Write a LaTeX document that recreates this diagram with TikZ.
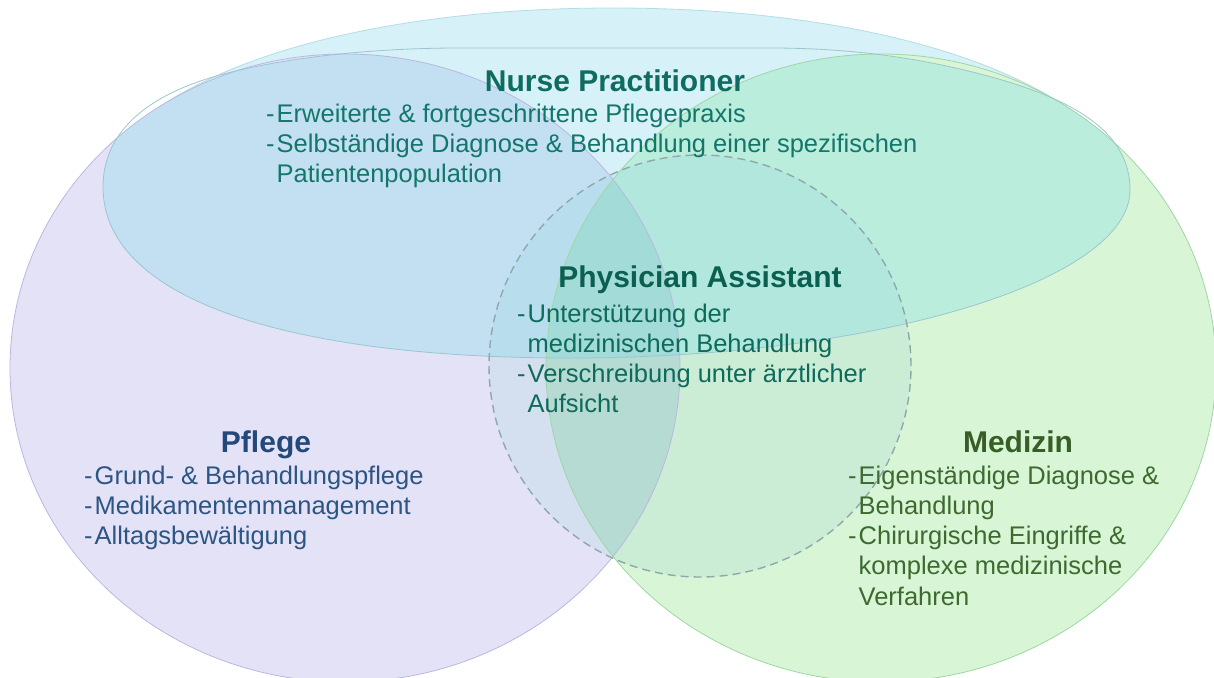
\documentclass[tikz,border=0pt]{standalone}
\usepackage{fontspec}
\setmainfont{Liberation Sans}
\definecolor{oFill}{HTML}{D6F1F7}
\definecolor{oEdge}{HTML}{B3DDE6}
\definecolor{pFill}{HTML}{E4E2F7}
\definecolor{pEdge}{HTML}{BAB8E0}
\definecolor{gFill}{HTML}{D8F5D6}
\definecolor{gEdge}{HTML}{9ED7A3}
\definecolor{lensFill}{HTML}{BCDDD1}
\definecolor{dTint}{HTML}{A8D8D8}
\definecolor{dEdge}{HTML}{8FA8AA}
\definecolor{eTint}{HTML}{78DCEB}
\definecolor{eEdge}{HTML}{9CC6CF}
\definecolor{npH}{HTML}{0E6C60}
\definecolor{npB}{HTML}{13766A}
\definecolor{paH}{HTML}{0B5F50}
\definecolor{paB}{HTML}{0E6A5A}
\definecolor{pfH}{HTML}{22497A}
\definecolor{pfB}{HTML}{2B5583}
\definecolor{meH}{HTML}{365E26}
\definecolor{meB}{HTML}{3E6A30}
\def\Ppath{(345,368) ellipse [x radius=335pt, y radius=314pt]}
\def\Gpath{(881,368) ellipse [x radius=335pt, y radius=314pt]}
\def\Dpath{(700,366) circle [radius=211pt]}
\def\Epath{(103,187) .. controls (103,130) and (150,90) .. (240,70) .. controls (300,56) and (380,48) .. (460,48) -- (770,48) .. controls (860,48) and (930,60) .. (995,78) .. controls (1080,102) and (1130,135) .. (1130,190) .. controls (1130,280) and (880,358) .. (570,358) .. controls (290,358) and (103,300) .. (103,187) -- cycle}
\def\Opath{(80,230) .. controls (80,100) and (300,8) .. (613,8) .. controls (926,8) and (1146,100) .. (1146,230) .. controls (1146,330) and (900,400) .. (613,400) .. controls (326,400) and (80,330) .. (80,230) -- cycle}
\begin{document}
\begin{tikzpicture}[x=1pt,y=-1pt,
  heading/.style={inner sep=0pt, anchor=base, font=\fontsize{30}{36}\selectfont\bfseries},
  bodytext/.style={inner sep=0pt, anchor=base west, font=\fontsize{25.5}{30.3}\selectfont, align=left},
  edgeline/.style={line width=0.8pt},
]
\useasboundingbox (0,0) rectangle (1214,677);
\clip (0,0) rectangle (1214,677);
% outer light cyan shape
\fill[oFill] \Opath;
\draw[edgeline, oEdge] \Opath;
% Pflege and Medizin circles
\fill[pFill] \Ppath;
\fill[gFill] \Gpath;
\begin{scope}
  \clip \Ppath;
  \fill[lensFill] \Gpath;
\end{scope}
% Physician Assistant circle tint
\fill[dTint, fill opacity=0.25] \Dpath;
% Nurse Practitioner ellipse tint
\begin{scope}
  \clip \Ppath \Gpath;
  \fill[eTint, fill opacity=0.3] \Epath;
\end{scope}
% edges
\draw[edgeline, pEdge] \Ppath;
\draw[edgeline, gEdge] \Gpath;
\draw[edgeline, eEdge] \Epath;
\draw[dEdge, line width=1.4pt, dash pattern=on 8pt off 5pt] \Dpath;
% texts
\node[heading, text=npH] (npTitle) at (615,91) {Nurse Practitioner};
\node[bodytext, text=npB] (npList) at (266,122) {\begin{tabular}[t]{@{}l@{\hspace{2pt}}l@{}}-&Erweiterte \& fortgeschrittene Pflegepraxis\\-&Selbständige Diagnose \& Behandlung einer spezifischen\\&Patientenpopulation\end{tabular}};
\node[heading, text=paH] (paTitle) at (700,287) {Physician Assistant};
\node[bodytext, text=paB] (paList) at (517,322) {\begin{tabular}[t]{@{}l@{\hspace{2pt}}l@{}}-&Unterstützung der\\&medizinischen Behandlung\\-&Verschreibung unter ärztlicher\\&Aufsicht\end{tabular}};
\node[heading, text=pfH] (pfTitle) at (266,452) {Pflege};
\node[bodytext, text=pfB] (pfList) at (84,484) {\begin{tabular}[t]{@{}l@{\hspace{2pt}}l@{}}-&Grund- \& Behandlungspflege\\-&Medikamentenmanagement\\-&Alltagsbewältigung\end{tabular}};
\node[heading, text=meH] (meTitle) at (1018,452) {Medizin};
\node[bodytext, text=meB] (meList) at (848,484) {\begin{tabular}[t]{@{}l@{\hspace{2pt}}l@{}}-&Eigenständige Diagnose \&\\&Behandlung\\-&Chirurgische Eingriffe \&\\&komplexe medizinische\\&Verfahren\end{tabular}};
\end{tikzpicture}
\end{document}
